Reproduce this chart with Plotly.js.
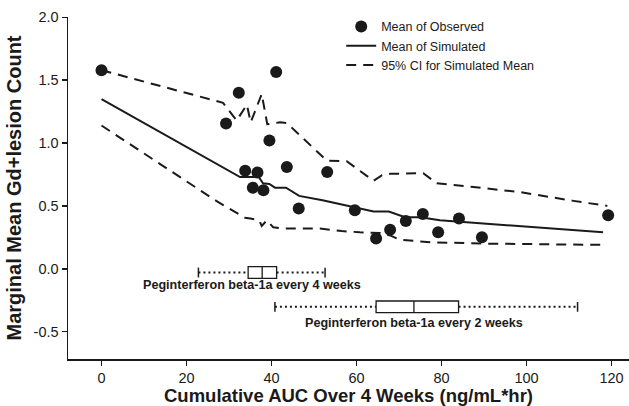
<!DOCTYPE html>
<html>
<head>
<meta charset="utf-8">
<script src="https://cdn.plot.ly/plotly-3.0.1.min.js"></script>
<style>html,body{margin:0;padding:0;background:#fff;}#chart{width:629px;height:406px;}</style>
</head>
<body>
<div id="chart"></div>
<script>
// Mean of observed
var obsX = [0, 29.3, 32.3, 33.8, 35.6, 36.7, 38.1, 39.5, 41.1, 43.6, 46.4, 53.1, 59.6, 64.6, 67.9, 71.6, 75.6, 79.2, 84.1, 89.5, 119.2];
var obsY = [1.58, 1.155, 1.40, 0.78, 0.645, 0.765, 0.625, 1.02, 1.565, 0.81, 0.48, 0.77, 0.465, 0.24, 0.31, 0.38, 0.435, 0.29, 0.40, 0.25, 0.425];
// Mean of simulated
var simX = [0, 32.6, 37.0, 38.0, 39.5, 40.8, 43.4, 46.5, 52.0, 59.3, 64.0, 67.6, 71.4, 75.0, 79.6, 118.0];
var simY = [1.35, 0.73, 0.73, 0.68, 0.675, 0.645, 0.645, 0.58, 0.545, 0.49, 0.455, 0.455, 0.41, 0.41, 0.385, 0.29];
// 95% CI upper
var upX = [0, 26.3, 28.6, 31.8, 34.2, 35.1, 37.7, 39.0, 42.0, 43.6, 53.0, 57.7, 64.0, 66.0, 68.0, 75.7, 78.9, 87.5, 98.5, 111.0, 119.0];
var upY = [1.58, 1.34, 1.32, 1.18, 1.305, 1.165, 1.39, 1.15, 1.165, 1.16, 0.86, 0.855, 0.70, 0.745, 0.755, 0.76, 0.68, 0.65, 0.61, 0.54, 0.50];
// 95% CI lower
var loX = [0, 27.0, 33.8, 35.0, 37.1, 37.7, 38.9, 40.4, 42.4, 51.4, 56.5, 60.8, 65.5, 67.9, 70.2, 78.0, 90.6, 117.7];
var loY = [1.14, 0.54, 0.405, 0.40, 0.385, 0.34, 0.385, 0.33, 0.32, 0.32, 0.30, 0.29, 0.285, 0.265, 0.23, 0.21, 0.20, 0.19];
// Exposure distributions (box plots)
var boxNames = ["Peginterferon beta-1a every 4 weeks", "Peginterferon beta-1a every 2 weeks"];
var boxMin = [22.8, 40.8];
var boxQ1 = [34.5, 64.6];
var boxMed = [37.8, 73.5];
var boxQ3 = [41.2, 84.0];
var boxMax = [52.6, 112.0];
// Axis ticks
var xTickVals = [0, 20, 40, 60, 80, 100, 120];
var xTickText = ["0", "20", "40", "60", "80", "100", "120"];
var yTickVals = [-0.5, 0, 0.5, 1.0, 1.5, 2.0];
var yTickText = ["-0.5", "0.0", "0.5", "1.0", "1.5", "2.0"];
var legendNames = ["Mean of Observed", "Mean of Simulated", "95% CI for Simulated Mean"];

var INK = '#1a1a1a';
var FONT = 'Liberation Sans, Arial, sans-serif';
var boxPos = [-0.03, -0.303];
var labelPos = [-0.13, -0.435];
var labelX = [35.5, 73.5];

var traces = [];
// whiskers (dotted) with end caps
for (var i = 0; i < boxNames.length; i++) {
  traces.push({
    type: 'scatter', mode: 'lines', x: [boxMin[i], boxQ1[i]], y: [boxPos[i], boxPos[i]],
    line: {color: INK, width: 2, dash: '2px,3px'}, showlegend: false, hoverinfo: 'skip'
  });
  traces.push({
    type: 'scatter', mode: 'lines', x: [boxQ3[i], boxMax[i]], y: [boxPos[i], boxPos[i]],
    line: {color: INK, width: 2, dash: '2px,3px'}, showlegend: false, hoverinfo: 'skip'
  });
  traces.push({
    type: 'scatter', mode: 'markers', x: [boxMin[i], boxMax[i]], y: [boxPos[i], boxPos[i]],
    marker: {symbol: 'line-ns-open', size: 7, color: INK, line: {color: INK, width: 1.5}},
    showlegend: false, hoverinfo: 'skip'
  });
  traces.push({
    type: 'box', orientation: 'h', name: boxNames[i], y: [boxPos[i]],
    q1: [boxQ1[i]], median: [boxMed[i]], q3: [boxQ3[i]],
    lowerfence: [boxQ1[i]], upperfence: [boxQ3[i]],
    width: 0.093, whiskerwidth: 0, fillcolor: '#ffffff',
    line: {color: INK, width: 1.3}, boxpoints: false, showlegend: false, hoverinfo: 'skip'
  });
}
traces.push({
  type: 'scatter', mode: 'markers', name: legendNames[0], x: obsX, y: obsY,
  marker: {color: INK, size: 12, line: {width: 0}}
});
traces.push({
  type: 'scatter', mode: 'lines', name: legendNames[1], x: simX, y: simY,
  line: {color: INK, width: 2}
});
traces.push({
  type: 'scatter', mode: 'lines', name: legendNames[2], x: upX, y: upY,
  line: {color: INK, width: 2, dash: '10px,7px'}
});
traces.push({
  type: 'scatter', mode: 'lines', name: legendNames[2], x: loX, y: loY,
  line: {color: INK, width: 2, dash: '10px,7px'}, showlegend: false
});

var annotations = boxNames.map(function (n, i) {
  return {x: labelX[i], y: labelPos[i], xref: 'x', yref: 'y', text: '<b>' + n + '</b>',
    showarrow: false, font: {family: FONT, size: 12.6, color: INK}};
});

var layout = {
  width: 629, height: 406,
  margin: {l: 68, r: 0, t: 17, b: 47, pad: 0},
  paper_bgcolor: '#fff', plot_bgcolor: '#fff',
  font: {family: FONT, color: INK},
  showlegend: true,
  legend: {x: 0.487, y: 1.015, xanchor: 'left', yanchor: 'top', bgcolor: 'rgba(0,0,0,0)',
    font: {family: FONT, size: 12.5, color: INK}, traceorder: 'normal', tracegroupgap: 0},
  xaxis: {
    range: [-7.88, 124.1], showgrid: false, zeroline: false, showline: true, linecolor: INK, linewidth: 1.5,
    ticks: 'outside', ticklen: 5, tickwidth: 1.5, tickcolor: INK,
    tickvals: xTickVals, ticktext: xTickText, tickfont: {family: FONT, size: 14.5, color: INK},
    title: {text: '<b>Cumulative AUC Over 4 Weeks (ng/mL*hr)</b>', font: {family: FONT, size: 18.5, color: INK}, standoff: 8}
  },
  yaxis: {
    range: [-0.718, 2.003], showgrid: false, zeroline: false, showline: true, linecolor: INK, linewidth: 1.5,
    ticks: 'outside', ticklen: 5, tickwidth: 1.5, tickcolor: INK,
    tickvals: yTickVals, ticktext: yTickText, tickfont: {family: FONT, size: 14.5, color: INK},
    title: {text: '<b>Marginal Mean Gd+lesion Count</b>', font: {family: FONT, size: 20, color: INK}, standoff: 6}
  },
  annotations: annotations
};

Plotly.newPlot('chart', traces, layout, {displayModeBar: false, staticPlot: true});
</script>
</body>
</html>
